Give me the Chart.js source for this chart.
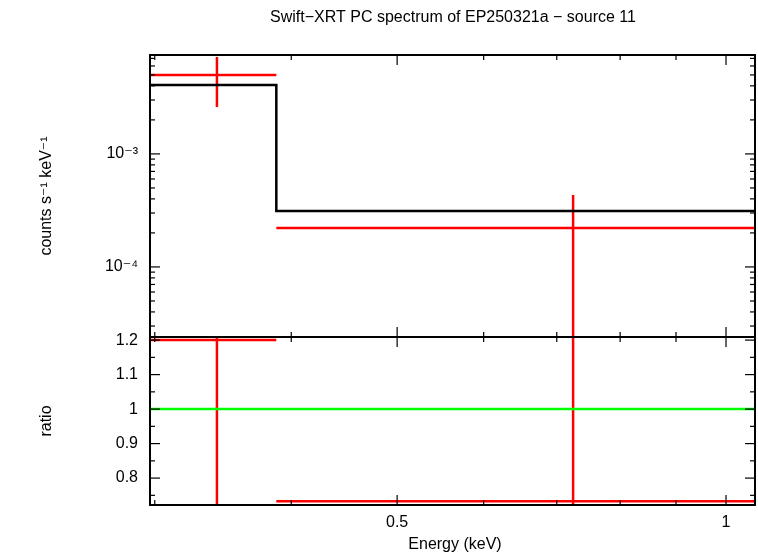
<!DOCTYPE html>
<html>
<head>
<meta charset="utf-8">
<script src="https://cdn.jsdelivr.net/npm/chart.js@4"></script>
<style>
  body { margin: 0; background: #fff; }
  #wrap { width: 758px; height: 556px; position: relative; }
</style>
</head>
<body>
<div id="wrap"><canvas id="myChart" width="758" height="556"></canvas></div>
<script>
// spectrum data (keV, counts/s/keV)
const xRange = [0.297, 1.063];
const specRange = [2.4e-5, 7.5e-3];
const ratioRange = [0.722, 1.209];

const dataX = [0.342, 0.7245];
const dataXLo = [0.297, 0.3876];
const dataXHi = [0.3876, 1.063];
const dataY = [5.0e-3, 2.21e-4];
const dataYLo = [2.6e-3, 2.4e-5];
const dataYHi = [7.2e-3, 4.33e-4];

const modelEdges = [0.297, 0.3876, 1.063];
const modelY = [4.08e-3, 3.13e-4];

const ratioY = [1.2, 0.733];
const ratioYLo = [0.722, 0.722];
const ratioYHi = [1.209, 1.209];

const FONT = '"Liberation Sans", "DejaVu Sans", sans-serif';

// build the step line and error crosses
function stepPoints(edges, vals) {
    const pts = [];
    for (let i = 0; i < vals.length; i++) {
        pts.push({ x: edges[i], y: vals[i] });
        pts.push({ x: edges[i + 1], y: vals[i] });
    }
    return pts;
}
function crossPoints(xs, xlo, xhi, ys, ylo, yhi) {
    const pts = [];
    for (let i = 0; i < xs.length; i++) {
        pts.push({ x: xlo[i], y: ys[i] }, { x: xhi[i], y: ys[i] }, { x: null, y: null });
        pts.push({ x: xs[i], y: ylo[i] }, { x: xs[i], y: yhi[i] }, { x: null, y: null });
    }
    return pts;
}

const lineDefaults = { showLine: true, pointRadius: 0, spanGaps: false, tension: 0, borderWidth: 2.5 };

// inward tick marks + frame, gnuplot style
const frameTicks = {
    id: 'frameTicks',
    afterDraw(chart) {
        const c = chart.ctx;
        const xs = chart.scales.x, ys = chart.scales.y, yr = chart.scales.y2;
        c.save();
        c.strokeStyle = '#000';
        c.lineWidth = 2;
        const L = xs.left, R = xs.right;
        [[ys.top, ys.bottom], [yr.top, yr.bottom]].forEach(([t, b]) => {
            c.strokeRect(L, t, R - L, b - t);
        });
        c.lineWidth = 1.2;
        const xMaj = [0.5, 1], xMin = [0.3, 0.4, 0.6, 0.7, 0.8, 0.9];
        const tickX = (v, len) => {
            const p = xs.getPixelForValue(v);
            [[ys.top, 1], [ys.bottom, -1], [yr.top, 1], [yr.bottom, -1]].forEach(([y0, d]) => {
                c.beginPath(); c.moveTo(p, y0); c.lineTo(p, y0 + d * len); c.stroke();
            });
        };
        xMaj.forEach(v => tickX(v, 10));
        xMin.forEach(v => tickX(v, 5));
        const tickY = (sc, v, len) => {
            const p = sc.getPixelForValue(v);
            c.beginPath(); c.moveTo(L, p); c.lineTo(L + len, p); c.stroke();
            c.beginPath(); c.moveTo(R, p); c.lineTo(R - len, p); c.stroke();
        };
        [1e-4, 1e-3].forEach(v => tickY(ys, v, 10));
        [1e-5, 1e-4, 1e-3].forEach(d => {
            for (let k = 2; k <= 9; k++) {
                const v = k * d;
                if (v > specRange[0] && v < specRange[1]) tickY(ys, v, 5);
            }
        });
        [0.8, 0.9, 1, 1.1, 1.2].forEach(v => tickY(yr, v, 10));
        [0.75, 0.85, 0.95, 1.05, 1.15].forEach(v => tickY(yr, v, 5));

        c.fillStyle = '#000';
        c.font = '16px ' + FONT;
        c.textAlign = 'center';
        c.textBaseline = 'middle';
        c.fillText('Swift\u2212XRT PC spectrum of EP250321a \u2212 source 11', 453, 18);
        c.fillText('Energy (keV)', 455, 545);
        c.save();
        c.translate(47, (ys.top + ys.bottom) / 2);
        c.rotate(-Math.PI / 2);
        c.fillText('counts s\u207B\u00B9 keV\u207B\u00B9', 0, 0);
        c.restore();
        c.save();
        c.translate(47, (yr.top + yr.bottom) / 2);
        c.rotate(-Math.PI / 2);
        c.fillText('ratio', 0, 0);
        c.restore();
        c.restore();
    }
};

const ctx = document.getElementById('myChart').getContext('2d');
const myChart = new Chart(ctx, {
    type: 'scatter',
    data: {
        datasets: [
            Object.assign({ data: stepPoints(modelEdges, modelY), borderColor: '#000', yAxisID: 'y' }, lineDefaults),
            Object.assign({ data: crossPoints(dataX, dataXLo, dataXHi, dataY, dataYLo, dataYHi), borderColor: '#ff0000', yAxisID: 'y' }, lineDefaults),
            Object.assign({ data: [{ x: xRange[0], y: 1 }, { x: xRange[1], y: 1 }], borderColor: '#00ff00', yAxisID: 'y2' }, lineDefaults),
            Object.assign({ data: crossPoints(dataX, dataXLo, dataXHi, ratioY, ratioYLo, ratioYHi), borderColor: '#ff0000', yAxisID: 'y2' }, lineDefaults)
        ]
    },
    options: {
        responsive: false,
        animation: false,
        layout: { padding: { top: 55, right: 3, left: 0, bottom: 0 } },
        plugins: { legend: { display: false }, tooltip: { enabled: false } },
        scales: {
            x: {
                type: 'logarithmic', min: xRange[0], max: xRange[1],
                grid: { display: false, drawTicks: false },
                border: { display: false },
                afterBuildTicks: s => { s.ticks = [{ value: 0.5 }, { value: 1 }]; },
                afterFit: s => { s.height = 51; },
                ticks: { color: '#000', font: { family: FONT, size: 16 }, padding: 8, maxRotation: 0, callback: v => String(v) }
            },
            y2: {
                type: 'linear', min: ratioRange[0], max: ratioRange[1],
                stack: 'v', stackWeight: 168, position: 'left',
                grid: { display: false, drawTicks: false },
                border: { display: false },
                afterBuildTicks: s => { s.ticks = [0.8, 0.9, 1, 1.1, 1.2].map(v => ({ value: v })); },
                afterFit: s => { s.width = 150; },
                ticks: { color: '#000', font: { family: FONT, size: 16 }, padding: 12, callback: v => String(Math.round(v * 10) / 10) }
            },
            y: {
                type: 'logarithmic', min: specRange[0], max: specRange[1],
                stack: 'v', stackWeight: 282, position: 'left',
                grid: { display: false, drawTicks: false },
                border: { display: false },
                afterBuildTicks: s => { s.ticks = [{ value: 1e-4 }, { value: 1e-3 }]; },
                afterFit: s => { s.width = 150; },
                ticks: { color: '#000', font: { family: FONT, size: 16 }, padding: 12, callback: v => v === 1e-3 ? '10\u207B\u00B3' : '10\u207B\u2074' }
            }
        }
    },
    plugins: [frameTicks]
});
</script>
</body>
</html>
